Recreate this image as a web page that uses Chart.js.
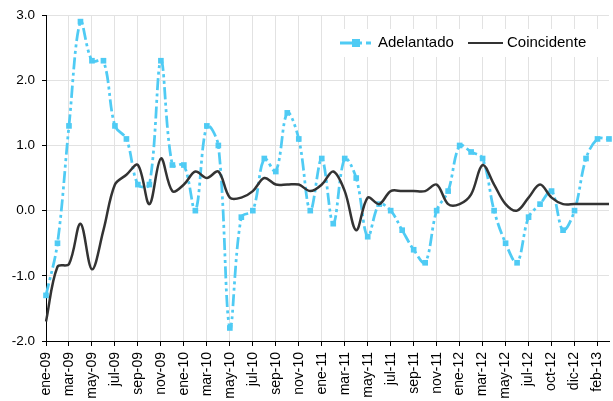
<!DOCTYPE html>
<html><head><meta charset="utf-8">
<script src="https://cdn.jsdelivr.net/npm/chart.js@4/dist/chart.umd.min.js"></script>
<style>html,body{margin:0;padding:0;background:#fff;}#wrap{position:relative;width:613px;height:401px;}</style>
</head><body><div id="wrap"><canvas id="c" width="613" height="401"></canvas></div>
<script>
const categories = [
  'ene-09','feb-09','mar-09','abr-09','may-09','jun-09','jul-09','ago-09','sep-09','oct-09','nov-09','dic-09',
  'ene-10','feb-10','mar-10','abr-10','may-10','jun-10','jul-10','ago-10','sep-10','oct-10','nov-10','dic-10',
  'ene-11','feb-11','mar-11','abr-11','may-11','jun-11','jul-11','ago-11','sep-11','oct-11','nov-11','dic-11',
  'ene-12','feb-12','mar-12','abr-12','may-12','jun-12','jul-12','ago-12','oct-12','nov-12','dic-12',
  'ene-13','feb-13','mar-13'
];
const adelantado = [
  -1.3,-0.5,1.3,2.9,2.3,2.3,1.3,1.1,0.4,0.4,2.3,0.7,
  0.7,0.0,1.3,1.0,-1.8,-0.1,0.0,0.8,0.6,1.5,1.1,0.0,
  0.8,-0.2,0.8,0.5,-0.4,0.1,0.0,-0.3,-0.6,-0.8,0.0,0.3,
  1.0,0.9,0.8,0.0,-0.5,-0.8,-0.1,0.1,0.3,-0.3,0.0,
  0.8,1.1,1.1
];
const coincidente = [
  -1.7,-0.86,-0.82,-0.2,-0.9,-0.3,0.4,0.55,0.7,0.1,0.8,0.3,
  0.4,0.6,0.5,0.6,0.2,0.2,0.3,0.5,0.4,0.4,0.4,0.3,
  0.4,0.6,0.3,-0.3,0.2,0.1,0.3,0.3,0.3,0.3,0.4,0.1,
  0.1,0.25,0.7,0.4,0.1,0.0,0.2,0.4,0.2,0.1,0.1,
  0.1,0.1,0.1
];
const seriesNames = ['Adelantado','Coincidente'];
const yMin = -2, yMax = 3, yStep = 1;

const CYAN = '#4FCBF4';
const DARK = '#333333';
const FONT = '"Liberation Sans", Arial, sans-serif';

const legendPlugin = {
  id: 'boxLegend',
  afterDatasetsDraw(chart) {
    const ctx = chart.ctx;
    const ds = chart.data.datasets;
    ctx.save();
    ctx.fillStyle = '#ffffff';
    ctx.fillRect(333, 29, 270, 28);
    const y = 43;
    ctx.strokeStyle = ds[0].borderColor; ctx.lineWidth = 3;
    ctx.beginPath(); ctx.moveTo(340, y); ctx.lineTo(362, y); ctx.moveTo(366, y); ctx.lineTo(371, y); ctx.stroke();
    ctx.fillStyle = ds[0].pointBackgroundColor; ctx.fillRect(352, 39, 8, 8);
    ctx.fillStyle = '#000'; ctx.font = '15px ' + FONT; ctx.textBaseline = 'middle'; ctx.textAlign = 'left';
    ctx.fillText(ds[0].label, 378, y);
    ctx.strokeStyle = ds[1].borderColor; ctx.lineWidth = 2;
    ctx.beginPath(); ctx.moveTo(468, y); ctx.lineTo(503, y); ctx.stroke();
    ctx.fillText(ds[1].label, 507, y);
    ctx.restore();
  }
};

new Chart(document.getElementById('c'), {
  type: 'line',
  data: {
    labels: categories,
    datasets: [
      {
        label: seriesNames[0], data: adelantado, order: 1,
        borderColor: CYAN, backgroundColor: CYAN, pointBackgroundColor: CYAN, pointBorderColor: CYAN,
        borderWidth: 2.75, borderDash: [12, 3.5, 3, 3.5, 3, 3.5], tension: 0.35,
        pointStyle: 'rect', pointRadius: 4, pointBorderWidth: 0, fill: false
      },
      {
        label: seriesNames[1], data: coincidente, order: 0,
        borderColor: DARK, backgroundColor: DARK, borderWidth: 2.5, tension: 0.35,
        pointRadius: 0, fill: false
      }
    ]
  },
  options: {
    responsive: false, animation: false, devicePixelRatio: 1,
    layout: { padding: { top: 13, right: 2, left: 0, bottom: 0 } },
    plugins: { legend: { display: false }, tooltip: { enabled: false } },
    scales: {
      x: {
        type: 'category', offset: false,
        grid: { color: '#e2e2e2', lineWidth: 1, tickColor: '#000', tickLength: 5, drawTicks: true },
        border: { color: '#000', width: 1 },
        ticks: { autoSkip: false, maxRotation: 90, minRotation: 90, padding: 6, color: '#000', font: { family: FONT, size: 14 } },
        afterBuildTicks: (s) => { s.ticks = s.ticks.filter(t => t.value % 2 === 0); },
        afterFit: (s) => { s.height = 60; s.paddingLeft = 0; s.paddingRight = 0; }
      },
      y: {
        min: yMin, max: yMax,
        grid: { color: '#e2e2e2', lineWidth: 1, tickColor: '#000', tickLength: 4 },
        border: { color: '#000', width: 1 },
        ticks: { stepSize: yStep, padding: 7, color: '#000', font: { family: FONT, size: 13.5 }, callback: v => Number(v).toFixed(1) },
        afterFit: (s) => { s.width = 46; }
      }
    }
  },
  plugins: [legendPlugin]
});
</script>
</body></html>
